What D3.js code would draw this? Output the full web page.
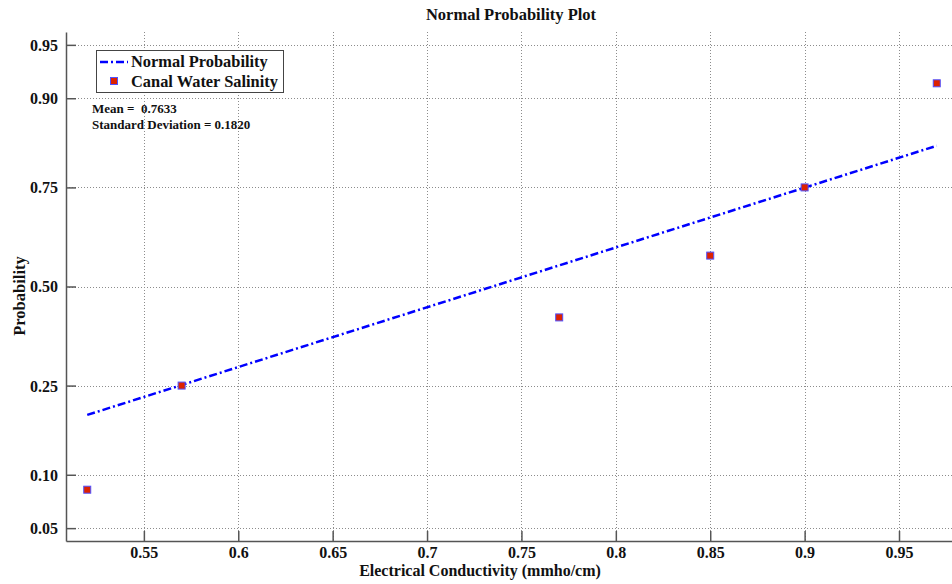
<!DOCTYPE html>
<html>
<head>
<meta charset="utf-8">
<script src="https://cdn.jsdelivr.net/npm/d3@7"></script>
<style>
  html, body { margin: 0; padding: 0; background: #fff; }
  svg { display: block; }
  text { font-family: "Liberation Serif", "Times New Roman", serif; font-weight: bold; fill: #111; }
</style>
</head>
<body>
<script>
// Sample values (Electrical Conductivity) and their plotting positions
const sampleX = [0.52, 0.57, 0.77, 0.85, 0.90, 0.97];
const sampleP = [0.0833, 0.25, 0.4167, 0.5833, 0.75, 0.9167];

// Reference line end points (through the first and third quartile points)
const lineX = [0.52, 0.97];
const lineP = [0.191, 0.831];

// Axis ticks
const xTicks = [0.55, 0.6, 0.65, 0.7, 0.75, 0.8, 0.85, 0.9, 0.95];
const xTickLabels = ["0.55", "0.6", "0.65", "0.7", "0.75", "0.8", "0.85", "0.9", "0.95"];
const yTicks = [0.05, 0.10, 0.25, 0.50, 0.75, 0.90, 0.95];
const yTickLabels = ["0.05", "0.10", "0.25", "0.50", "0.75", "0.90", "0.95"];

const xDomain = [0.50875, 0.98125];
const yDomain = [0.0416, 0.9584];

const statLines = ["Mean =  0.7633", "Standard Deviation = 0.1820"];
const legendLabels = ["Normal Probability", "Canal Water Salinity"];

// Inverse of the standard normal CDF (Acklam's rational approximation)
function probit(p) {
  const a = [-3.969683028665376e+01, 2.209460984245205e+02, -2.759285104469687e+02,
             1.383577518672690e+02, -3.066479806614716e+01, 2.506628277459239e+00];
  const b = [-5.447609879822406e+01, 1.615858368580409e+02, -1.556989798598866e+02,
             6.680131188771972e+01, -1.328068155288572e+01];
  const c = [-7.784894002430293e-03, -3.223964580411365e-01, -2.400758277161838e+00,
             -2.549671010115819e+00, 4.374664141464968e+00, 2.938163982698783e+00];
  const d = [7.784695709041462e-03, 3.224671290700398e-01, 2.445134137142996e+00,
             3.754408661907416e+00];
  const pl = 0.02425, ph = 1 - pl;
  let q, r;
  if (p < pl) {
    q = Math.sqrt(-2 * Math.log(p));
    return (((((c[0]*q+c[1])*q+c[2])*q+c[3])*q+c[4])*q+c[5]) /
           ((((d[0]*q+d[1])*q+d[2])*q+d[3])*q+1);
  }
  if (p <= ph) {
    q = p - 0.5; r = q * q;
    return (((((a[0]*r+a[1])*r+a[2])*r+a[3])*r+a[4])*r+a[5])*q /
           (((((b[0]*r+b[1])*r+b[2])*r+b[3])*r+b[4])*r+1);
  }
  q = Math.sqrt(-2 * Math.log(1 - p));
  return -(((((c[0]*q+c[1])*q+c[2])*q+c[3])*q+c[4])*q+c[5]) /
          ((((d[0]*q+d[1])*q+d[2])*q+d[3])*q+1);
}

const W = 952, H = 584;
const plot = { left: 66, right: 958, top: 32, bottom: 541 };

const x = d3.scaleLinear().domain(xDomain).range([plot.left, plot.right]);
const yz = d3.scaleLinear().domain(yDomain.map(probit)).range([plot.bottom, plot.top]);
const y = p => yz(probit(p));

const svg = d3.select("body").append("svg").attr("width", W).attr("height", H);

// Grid
const grid = svg.append("g").attr("stroke", "#8c8c8c").attr("stroke-width", 1)
  .attr("stroke-dasharray", "1,2").attr("fill", "none");
grid.selectAll("line.gx").data(xTicks).join("line").attr("class", "gx")
  .attr("x1", d => Math.round(x(d)) + 0.5).attr("x2", d => Math.round(x(d)) + 0.5)
  .attr("y1", plot.top).attr("y2", plot.bottom);
grid.selectAll("line.gy").data(yTicks).join("line").attr("class", "gy")
  .attr("y1", d => Math.round(y(d)) + 0.5).attr("y2", d => Math.round(y(d)) + 0.5)
  .attr("x1", plot.left).attr("x2", W);

// Axes with inward ticks
const xAxis = d3.axisBottom(x).tickValues(xTicks)
  .tickFormat((d, i) => xTickLabels[i]).tickSizeInner(-10).tickSizeOuter(0).tickPadding(17);
const gx = svg.append("g").attr("transform", `translate(0,${plot.bottom})`).call(xAxis);

const yAxis = d3.axisLeft(yz).tickValues(yTicks.map(probit))
  .tickFormat((d, i) => yTickLabels[i]).tickSizeInner(-10).tickSizeOuter(0).tickPadding(17);
const gy = svg.append("g").attr("transform", `translate(${plot.left},0)`).call(yAxis);

[gx, gy].forEach(g => {
  g.select(".domain").attr("stroke", "#555").attr("stroke-width", 1.5);
  g.selectAll(".tick line").attr("stroke", "#555").attr("stroke-width", 1.5);
  g.selectAll(".tick text").attr("font-family", "Liberation Serif, serif")
    .attr("font-weight", "bold").attr("font-size", 16).attr("fill", "#111");
});
gy.selectAll(".tick text").attr("dy", "0.34em").attr("x", -8);
gx.selectAll(".tick text").attr("dy", "0.71em").attr("y", 6);

// Reference line
svg.append("path")
  .datum(lineX.map((v, i) => [v, lineP[i]]))
  .attr("fill", "none").attr("stroke", "#0000ff").attr("stroke-width", 2.5)
  .attr("stroke-dasharray", "8,3,2,3")
  .attr("d", d3.line().x(d => x(d[0])).y(d => y(d[1])));

// Sample markers
svg.selectAll("rect.pt").data(sampleX.map((v, i) => [v, sampleP[i]])).join("rect")
  .attr("class", "pt")
  .attr("x", d => x(d[0]) - 3.5).attr("y", d => y(d[1]) - 3.5)
  .attr("width", 7).attr("height", 7)
  .attr("fill", "#dd2200").attr("stroke", "#5050ff").attr("stroke-width", 1);

// Title and axis labels
svg.append("text").attr("x", 511).attr("y", 20).attr("text-anchor", "middle")
  .attr("font-size", 16.5).text("Normal Probability Plot");
svg.append("text").attr("x", 480).attr("y", 576).attr("text-anchor", "middle")
  .attr("font-size", 16).text("Electrical Conductivity (mmho/cm)");
svg.append("text").attr("transform", "translate(25,296) rotate(-90)").attr("text-anchor", "middle")
  .attr("font-size", 16.5).text("Probability");

// Legend
const lg = svg.append("g");
lg.append("rect").attr("x", 96.5).attr("y", 50.5).attr("width", 187).attr("height", 42)
  .attr("fill", "#fff").attr("stroke", "#444").attr("stroke-width", 1);
lg.append("line").attr("x1", 100).attr("x2", 128).attr("y1", 62).attr("y2", 62)
  .attr("stroke", "#0000ff").attr("stroke-width", 2.5).attr("stroke-dasharray", "8,3,2,3");
lg.append("rect").attr("x", 110.5).attr("y", 77.5).attr("width", 7).attr("height", 7)
  .attr("fill", "#dd2200").attr("stroke", "#5050ff").attr("stroke-width", 1);
lg.selectAll("text").data(legendLabels).join("text")
  .attr("x", 131).attr("y", (d, i) => 67 + i * 20)
  .attr("font-size", 16.4).text(d => d);

// Summary statistics
svg.selectAll("text.stat").data(statLines).join("text").attr("class", "stat")
  .attr("x", 92).attr("y", (d, i) => 113 + i * 16)
  .attr("font-size", 13).attr("xml:space", "preserve").style("white-space", "pre")
  .text(d => d);
</script>
</body>
</html>
